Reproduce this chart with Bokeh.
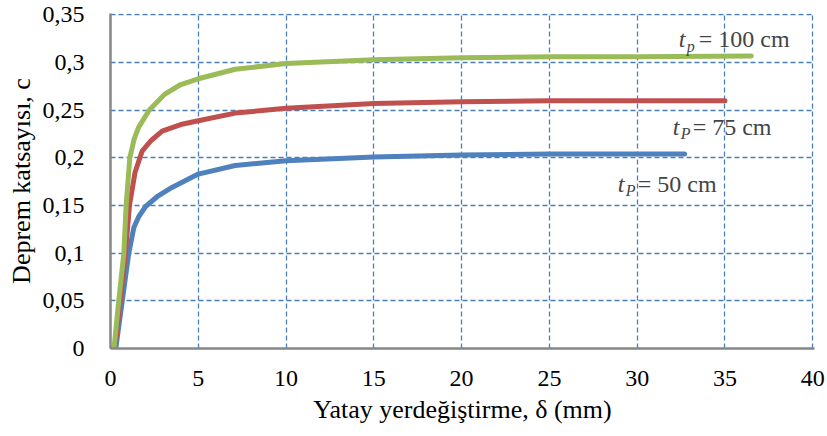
from bokeh.plotting import figure
from bokeh.models import Range1d, FixedTicker, CustomJSTickFormatter, Label
from bokeh.embed import file_html
from bokeh.resources import INLINE

# ---- data ----
x_ticks = [0, 5, 10, 15, 20, 25, 30, 35, 40]
y_ticks = [0, 0.05, 0.10, 0.15, 0.20, 0.25, 0.30, 0.35]

x_50 = [0, 0.3, 0.67, 1.04, 1.33, 1.6, 2.0, 2.7, 3.5, 5, 7.1, 10, 15, 20, 25, 30, 32.7]
c_50 = [0, 0, 0.05, 0.10, 0.127, 0.138, 0.149, 0.160, 0.169, 0.183, 0.192, 0.197, 0.201, 0.203, 0.204, 0.204, 0.204]

x_75 = [0, 0.25, 0.55, 0.85, 1.08, 1.4, 1.8, 2.3, 2.94, 4, 5, 7.1, 10, 15, 20, 25, 30, 35]
c_75 = [0, 0, 0.05, 0.10, 0.15, 0.185, 0.207, 0.218, 0.228, 0.235, 0.239, 0.247, 0.252, 0.257, 0.259, 0.260, 0.260, 0.260]

x_100 = [0, 0.2, 0.47, 0.76, 0.89, 1.1, 1.35, 1.6, 2.2, 3.1, 4, 5, 7.1, 10, 15, 20, 25, 30, 36.5]
c_100 = [0, 0, 0.05, 0.10, 0.15, 0.20, 0.220, 0.232, 0.250, 0.267, 0.277, 0.283, 0.293, 0.299, 0.303, 0.305, 0.306, 0.306, 0.307]

x_title = "Yatay yerdeğiştirme, δ (mm)"
y_title = "Deprem katsayısı, c"
series_names = [("p", "= 100 cm"), ("P", "= 75 cm"), ("P", "= 50 cm")]

FONT = "Liberation Serif"
GREEN, RED, BLUE = "#9bbb59", "#c0504d", "#4f81bd"

p = figure(width=827, height=436, output_backend="svg", toolbar_location=None,
           x_range=Range1d(0, 40.1), y_range=Range1d(0, 0.3515),
           min_border_left=110, min_border_right=13, min_border_top=13,
           min_border_bottom=88)
p.outline_line_color = None
p.background_fill_color = "white"
p.border_fill_color = "white"

for ax in (p.xaxis[0], p.yaxis[0]):
    ax.axis_line_color = "#868686"
    ax.axis_line_width = 2.5
    ax.major_tick_line_color = None
    ax.minor_tick_line_color = None
    ax.major_label_text_font = FONT
    ax.major_label_text_font_size = "24px"
    ax.major_label_text_color = "black"
    ax.axis_label_text_font = FONT
    ax.axis_label_text_font_size = "26px"
    ax.axis_label_text_font_style = "normal"
    ax.axis_label_text_color = "black"

p.xaxis.axis_label = x_title
p.yaxis.axis_label = y_title
p.xaxis.axis_label_standoff = 6
p.yaxis.axis_label_standoff = 4

p.xaxis.ticker = FixedTicker(ticks=x_ticks)
p.yaxis.ticker = FixedTicker(ticks=y_ticks)
p.xaxis.major_label_standoff = 16
p.yaxis.major_label_standoff = 20
p.yaxis.formatter = CustomJSTickFormatter(code="""
    let s = tick.toFixed(2).replace(/0+$/, '').replace(/\\.$/, '');
    return s.replace('.', ',');
""")

for g in (p.xgrid[0], p.ygrid[0]):
    g.grid_line_color = "#4a7ebb"
    g.grid_line_width = 1.3
    g.grid_line_dash = "5 3"

for xs, ys, col in ((x_50, c_50, BLUE), (x_75, c_75, RED), (x_100, c_100, GREEN)):
    p.line(xs, ys, line_color=col, line_width=5, line_cap="round", line_join="round")

# series labels t_p = ...
label_anchors = [(32.37, 0.3245), (32.02, 0.2325), (28.89, 0.1728)]
for (sub, rest), (ax_, ay_) in zip(series_names, label_anchors):
    p.add_layout(Label(x=ax_, y=ay_, text="t", text_font=FONT, text_font_style="italic",
                       text_font_size="24px", text_baseline="alphabetic", text_align="left"))
    p.add_layout(Label(x=ax_, y=ay_, x_offset=8, y_offset=-7, text=sub, text_font=FONT,
                       text_font_style="italic", text_font_size="16px",
                       text_baseline="alphabetic", text_align="left"))
    p.add_layout(Label(x=ax_, y=ay_, x_offset=20, text=rest, text_font=FONT,
                       text_font_size="24px", text_baseline="alphabetic", text_align="left"))

open("out.html", "w").write(file_html(p, INLINE))
